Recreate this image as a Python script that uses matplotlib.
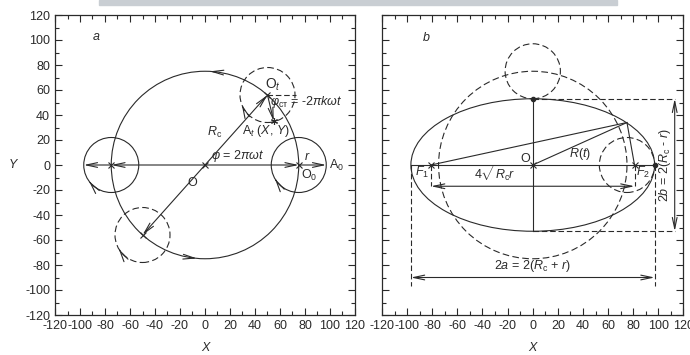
import numpy as np
import matplotlib
matplotlib.use('Agg')
import matplotlib.pyplot as plt
from matplotlib.patches import Circle, Ellipse, Rectangle

plt.rcParams['font.family'] = ['Liberation Sans', 'DejaVu Sans']
plt.rcParams['mathtext.fontset'] = 'custom'
plt.rcParams['mathtext.rm'] = 'Liberation Sans'
plt.rcParams['mathtext.it'] = 'Liberation Sans:italic'
plt.rcParams['mathtext.bf'] = 'Liberation Sans:bold'
plt.rcParams['axes.unicode_minus'] = False

LC = '#2a2a2a'
FS = 9

# ---- panel a data ----
R_C = 75
R_S = 22
A_SOLID_X = [0, -75, 75]
A_SOLID_Y = [0, 0, 0]
A_SOLID_R = [75, 22, 22]
A_DASH_X = [50, -50]
A_DASH_Y = [56, -56]
A_DASH_R = [22, 22]
A_CROSS_X = [0, -75, 75, 50, -50]
A_CROSS_Y = [0, 0, 0, 56, -56]
A_T = (55, 35)
# rotation arrow positions (deg on circle)
BIG_ARROW_DEG = [87, 265]
SMALL_ARROW_X = [-75, 75, 50, -50]
SMALL_ARROW_Y = [0, 0, 56, -56]
SMALL_ARROW_DEG = [216, 210, 201, 210]

# ---- panel b data ----
ELL_A = 97
ELL_B = 53
B_DASH_X = [0, 0, 75]
B_DASH_Y = [0, 75, 0]
B_DASH_R = [75, 22, 22]
FOCI_X = [-81, 81]
P_PT = (75, 34)
FOCI_ARROW_Y = -17
A_ARROW_Y = -90
A_DASH_BOTTOM = -97
B_ARROW_X = 113

TICKS = list(range(-120, 121, 20))


def arrow(ax, x0, y0, x1, y1, style='->'):
    ax.annotate('', xy=(x1, y1), xytext=(x0, y0),
                arrowprops=dict(arrowstyle=style + ',head_length=0.8,head_width=0.17',
                                lw=0.8, color=LC, shrinkA=0, shrinkB=0))


def rot_arrow(ax, cx, cy, rad, deg, sign):
    t = np.radians(deg)
    t0 = t - sign * np.radians(4)
    arrow(ax, cx + rad * np.cos(t0), cy + rad * np.sin(t0),
          cx + rad * np.cos(t), cy + rad * np.sin(t))


def setup(ax, ylabels=True):
    ax.set_xlim(-120, 120)
    ax.set_ylim(-120, 120)
    ax.set_xticks(TICKS)
    ax.set_yticks(TICKS)
    ax.set_xticks(range(-110, 120, 20), minor=True)
    ax.set_yticks(range(-110, 120, 20), minor=True)
    ax.tick_params(which='both', direction='in', top=True, right=True,
                   labelsize=FS, colors=LC, width=0.8)
    ax.tick_params(which='major', length=5)
    ax.tick_params(which='minor', length=3)
    if not ylabels:
        ax.tick_params(labelleft=False)
    for s in ax.spines.values():
        s.set_linewidth(0.9)
        s.set_color(LC)
    ax.set_xlabel('X', fontsize=FS, style='italic', color=LC)
    ax.xaxis.set_label_coords(0.5, -0.09)


fig = plt.figure(figsize=(6.9, 3.55), dpi=100)
fig.patches.append(Rectangle((99 / 690, 350 / 355), 518 / 690, 5 / 355,
                             transform=fig.transFigure, color='#c9ced3', zorder=0))

ax1 = fig.add_axes([55 / 690, 40 / 355, 300 / 690, 300 / 355])
ax2 = fig.add_axes([382 / 690, 40 / 355, 301.5 / 690, 300 / 355])
setup(ax1)
setup(ax2, ylabels=False)
ax1.set_ylabel('Y', fontsize=FS, style='italic', color=LC, rotation=0)
ax1.yaxis.set_label_coords(-0.14, 0.48)

# ---- panel a ----
for x, y, rr in zip(A_SOLID_X, A_SOLID_Y, A_SOLID_R):
    ax1.add_patch(Circle((x, y), rr, fill=False, ec=LC, lw=0.8))
for x, y, rr in zip(A_DASH_X, A_DASH_Y, A_DASH_R):
    ax1.add_patch(Circle((x, y), rr, fill=False, ec=LC, lw=0.8, ls=(0, (6, 3))))
ax1.plot(A_CROSS_X, A_CROSS_Y, 'x', color=LC, ms=4, mew=0.8)
ax1.plot(A_T[0], A_T[1], marker=(6, 2, 0), color=LC, ms=5, mew=0.8)

# radius arrows
arrow(ax1, 0, 0, -75, 0)
arrow(ax1, -75, 0, -97, 0)
arrow(ax1, 0, 0, 75, 0)
arrow(ax1, 75, 0, 97, 0)
arrow(ax1, 0, 0, A_DASH_X[0], A_DASH_Y[0])
arrow(ax1, 0, 0, A_DASH_X[1], A_DASH_Y[1])
arrow(ax1, A_DASH_X[0], A_DASH_Y[0], A_T[0], A_T[1])
ax1.plot([A_DASH_X[0], A_DASH_X[0] + 23], [A_DASH_Y[0], A_DASH_Y[0]],
         color=LC, lw=0.8, ls=(0, (5, 2.5)))

for d in BIG_ARROW_DEG:
    rot_arrow(ax1, 0, 0, R_C, d, 1)
for x, y, d in zip(SMALL_ARROW_X, SMALL_ARROW_Y, SMALL_ARROW_DEG):
    rot_arrow(ax1, x, y, R_S, d, -1)

kw = dict(fontsize=FS, color=LC, va='center')
ax1.text(-90, 102, '$a$', **kw)
ax1.text(48, 64, 'O$_t$', fontsize=10, color=LC, va='center')
ax1.text(52, 50, r'$\varphi_{\rm ст}$ = -2$\pi k\omega t$', **kw)
ax1.text(30, 27, 'A$_t$ ($X$, $Y$)', **kw)
ax1.text(8, 26, r'$R_{\rm c}$', ha='center', **kw)
ax1.text(5, 7, r'$\varphi$ = 2$\pi\omega t$', **kw)
ax1.text(-10, -14, 'O', ha='center', **kw)
ax1.text(82, 6, '$r$', ha='center', **kw)
ax1.text(99, 0, 'A$_0$', **kw)
ax1.text(77, -8, 'O$_0$', **kw)

# ---- panel b ----
ax2.add_patch(Ellipse((0, 0), 2 * ELL_A, 2 * ELL_B, fill=False, ec=LC, lw=0.8))
for x, y, rr in zip(B_DASH_X, B_DASH_Y, B_DASH_R):
    ax2.add_patch(Circle((x, y), rr, fill=False, ec=LC, lw=0.8, ls=(0, (6, 3))))
ax2.plot([-ELL_A, ELL_A], [0, 0], color=LC, lw=0.8)
ax2.plot([0, 0], [ELL_B, -ELL_B], color=LC, lw=0.8)
ax2.plot([FOCI_X[0], P_PT[0], FOCI_X[1]], [0, P_PT[1], 0], color=LC, lw=0.8)
ax2.plot([0, P_PT[0]], [0, P_PT[1]], color=LC, lw=0.8)
ax2.plot([0] + FOCI_X, [0, 0, 0], 'x', color=LC, ms=4, mew=0.8)
ax2.plot([0, ELL_A], [ELL_B, 0], 'o', color=LC, ms=3)

dash = (0, (5, 2.5))
for fx in FOCI_X:
    ax2.plot([fx, fx], [0, FOCI_ARROW_Y], color=LC, lw=0.8, ls=dash)
for ex in [-ELL_A, ELL_A]:
    ax2.plot([ex, ex], [0, A_DASH_BOTTOM], color=LC, lw=0.8, ls=dash)
for ey in [ELL_B, -ELL_B]:
    ax2.plot([0, B_ARROW_X], [ey, ey], color=LC, lw=0.8, ls=dash)

arrow(ax2, FOCI_X[0], FOCI_ARROW_Y, FOCI_X[1], FOCI_ARROW_Y, '<->')
arrow(ax2, -ELL_A, A_ARROW_Y, ELL_A, A_ARROW_Y, '<->')
arrow(ax2, B_ARROW_X, ELL_B, B_ARROW_X, -ELL_B, '<->')

ax2.text(-88, 102, '$b$', **kw)
ax2.text(-2, 5, 'O', ha='right', **kw)
ax2.text(38, 9, '$R(t)$', ha='center', **kw)
ax2.text(-88, -6, '$F_1$', ha='center', **kw)
ax2.text(88, -6, '$F_2$', ha='center', **kw)
ax2.text(-30, -7, r'4$\sqrt{R_{\rm c}r}$', ha='center', **kw)
ax2.text(0, -81, r'2$a$ = 2($R_{\rm c}$ + $r$)', ha='center', **kw)
ax2.text(105, 0, r'2$b$ = 2($R_{\rm c}$ - $r$)', ha='center', rotation=90, **kw)

fig.savefig('out.png', dpi=100)
